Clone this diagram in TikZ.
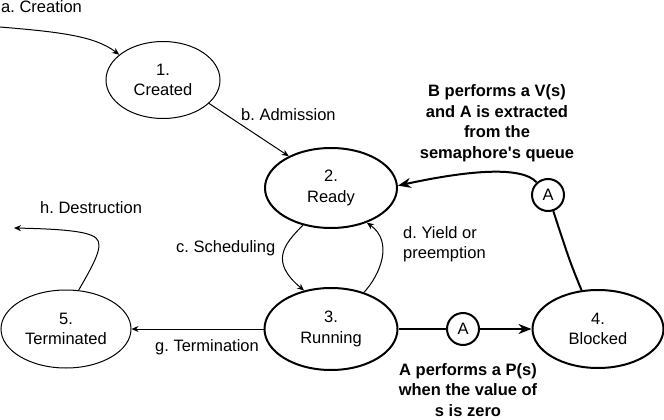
\documentclass[tikz,border=0pt]{standalone}
\usepackage{fontspec}
\setmainfont{Liberation Sans}
\usetikzlibrary{shapes.geometric,arrows.meta}
\frenchspacing
\begin{document}
\begin{tikzpicture}[x=1pt,y=-1pt,
  every node/.style={font=\fontsize{16.5}{20.5}\selectfont},
  stthin/.style={ellipse,draw,line width=1pt,align=center,inner sep=0pt},
  stthick/.style={stthin,line width=2pt},
  token/.style={circle,draw,line width=2pt,inner sep=0pt,minimum size=32pt},
  thinline/.style={line width=1pt},
  thinarr/.style={line width=1pt,-{Stealth[length=7pt,width=6pt]}},
  thickline/.style={line width=2pt},
  thickarr/.style={line width=2pt,-{Stealth[length=13pt,width=10pt]}},
  lbl/.style={inner sep=0pt},
  boldlbl/.style={inner sep=0pt,align=center,font=\fontsize{16.5}{20.5}\selectfont\bfseries}]
\useasboundingbox (0,0) rectangle (664,420);

% states
\node[stthin,minimum width=114pt,minimum height=77pt] (C) at (163,80) {1.\\Created};
\node[stthick,minimum width=132pt,minimum height=80pt] (R) at (331,188) {2.\\Ready};
\node[stthick,minimum width=133pt,minimum height=82pt] (U) at (331,329) {3.\\Running};
\node[stthick,minimum width=131pt,minimum height=78pt] (B) at (598,329) {4.\\Blocked};
\node[stthin,minimum width=130pt,minimum height=78pt] (T) at (66,329) {5.\\Terminated};

% tokens
\node[token] (A1) at (463,329) {A};
\node[token] (A2) at (548,195) {A};

% free ends
\coordinate (a0) at (0,27);
\coordinate (h0) at (14,228);

% connectors
\draw[thinarr] (a0) .. controls (60,32) and (95,36) .. (C.150);
\draw[thinarr] (C.-27) -- (R.143);
\draw[thinarr] (R.233) .. controls (283,245) and (270,262) .. (U.125);
\draw[thinarr] (U.48) .. controls (380,275) and (394,242) .. (R.316);
\draw[thinarr] (U.west) -- (T.east);
\draw[thinarr] (T.72) .. controls (95,262) and (104,245) .. (96,238)
  .. controls (88,231) and (60,229) .. (h0);
\draw[thickline] (U.east) -- (A1);
\draw[thickarr] (A1) -- (B.west);
\draw[thickline] (B.113) .. controls (570,262) .. (A2);
\draw[thickarr] (A2) .. controls (522,166) and (470,170) .. (R.2);

% labels
\node[lbl,anchor=base west] (la) at (1,13) {a. Creation};
\node[lbl,anchor=base west] (lb) at (241,121) {b. Admission};
\node[lbl,anchor=base west] (lc) at (176,252) {c. Scheduling};
\node[lbl,anchor=west,align=left] (ld) at (403,244) {d. Yield or\\preemption};
\node[lbl] (lg) at (207,347) {g. Termination};
\node[lbl,anchor=base west] (lh) at (40,213) {h. Destruction};
\node[boldlbl] (lp) at (468,390) {A performs a P(s)\\when the value of\\s is zero};
\node[boldlbl] (lv) at (497,123) {B performs a V(s)\\and A is extracted\\from the\\semaphore\textquotesingle s queue};
\end{tikzpicture}
\end{document}
